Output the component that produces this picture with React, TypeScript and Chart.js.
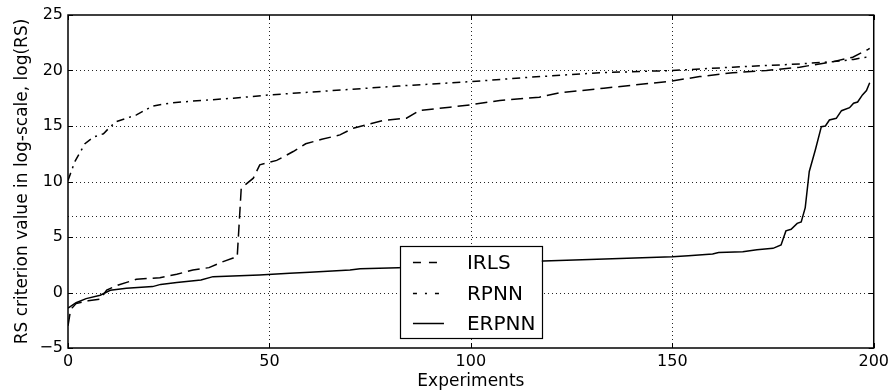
import React, { useEffect, useRef } from "react";
import { Chart, registerables } from "chart.js";

Chart.register(...registerables);

// ---------- data ----------
const seriesNames = ["IRLS", "RPNN", "ERPNN"];

const irlsX = [0, 0.5, 1, 2, 5, 8, 9.6, 12.5, 17, 22.8, 27, 31, 35, 38.5, 41, 42, 43, 46, 47.6, 51.8, 55.9, 59, 63, 67.5, 70.8, 78.3, 84, 87.3, 94.8, 99.8, 107.2, 117, 122, 133, 149.8, 156.8, 165, 173.4, 181.6, 190, 194.8, 198.6, 199];
const irlsY = [-3.0, -1.9, -1.4, -1.0, -0.75, -0.6, 0.22, 0.68, 1.19, 1.33, 1.64, 2.03, 2.24, 2.78, 3.1, 3.2, 9.4, 10.3, 11.5, 11.9, 12.7, 13.4, 13.8, 14.2, 14.8, 15.5, 15.7, 16.4, 16.7, 16.9, 17.3, 17.6, 18.0, 18.4, 19.05, 19.45, 19.8, 20.0, 20.3, 20.8, 21.2, 21.9, 22.0];

const rpnnX = [0, 1.7, 4.2, 6.3, 8.8, 10.4, 12, 17, 21, 26, 33, 41, 50, 58, 82, 100, 115, 132, 150, 165, 182, 190, 195, 198, 199];
const rpnnY = [10.1, 11.8, 13.4, 14.0, 14.3, 14.9, 15.4, 16.0, 16.8, 17.1, 17.3, 17.5, 17.8, 18.0, 18.6, 19.0, 19.4, 19.8, 20.0, 20.3, 20.6, 20.8, 21.0, 21.2, 21.3];

const erpnnX = [0, 2, 4.5, 8, 10.5, 14.5, 21, 23, 27, 33, 36, 47.5, 55, 60, 70, 72.5, 82, 100, 118, 129.5, 150, 154, 160, 161.5, 167.5, 171, 175, 177, 178.2, 179.5, 181, 182, 183, 184, 185.5, 187, 188, 189, 190.7, 192, 194, 195, 196, 197.2, 198.2, 199];
const erpnnY = [-1.4, -0.92, -0.55, -0.25, 0.2, 0.38, 0.53, 0.73, 0.9, 1.12, 1.43, 1.58, 1.73, 1.82, 2.03, 2.15, 2.24, 2.55, 2.84, 2.97, 3.23, 3.32, 3.47, 3.6, 3.68, 3.86, 3.98, 4.28, 5.55, 5.69, 6.23, 6.36, 7.65, 10.9, 12.84, 14.94, 15.0, 15.54, 15.69, 16.38, 16.65, 17.05, 17.16, 17.8, 18.2, 18.9];

const xTicks = [0, 50, 100, 150, 200];
const yTicks = [-5, 0, 5, 10, 15, 20, 25];
const thresholdValue = 6.908; // ln(1000)

const xTitle = "Experiments";
const yTitle = "RS criterion value in log-scale, log(RS)";

// ---------- styles ----------
const FONT = "'DejaVu Sans', 'Liberation Sans', sans-serif";
const dashIRLS = [12, 6];
const dashRPNN = [8, 5, 2, 5];
const dashes = [dashIRLS, dashRPNN, []];

const toPts = (xs: number[], ys: number[]) => xs.map((x, i) => ({ x, y: ys[i] }));

export default function App() {
  const ref = useRef<HTMLCanvasElement | null>(null);

  useEffect(() => {
    document.body.style.margin = "0";
    const canvas = ref.current;
    if (!canvas) return;

    const decor = {
      id: "decor",
      beforeDatasetsDraw(chart: any) {
        const { ctx, chartArea: a, scales } = chart;
        const xs = scales.x;
        const ys = scales.y;
        ctx.save();
        ctx.strokeStyle = "rgba(0,0,0,0.85)";
        ctx.lineWidth = 1;
        ctx.setLineDash([1, 3]);
        xTicks.forEach((v) => {
          if (v === xs.min || v === xs.max) return;
          const px = Math.round(xs.getPixelForValue(v)) + 0.5;
          ctx.beginPath();
          ctx.moveTo(px, a.top);
          ctx.lineTo(px, a.bottom);
          ctx.stroke();
        });
        [...yTicks, thresholdValue].forEach((v) => {
          if (v === ys.min || v === ys.max) return;
          const py = Math.round(ys.getPixelForValue(v)) + 0.5;
          ctx.beginPath();
          ctx.moveTo(a.left, py);
          ctx.lineTo(a.right, py);
          ctx.stroke();
        });
        ctx.restore();
      },
      afterDatasetsDraw(chart: any) {
        const { ctx, chartArea: a, scales } = chart;
        const xs = scales.x;
        const ys = scales.y;
        ctx.save();
        ctx.setLineDash([]);
        ctx.strokeStyle = "#000";
        // inward ticks
        ctx.lineWidth = 1;
        const tl = 5;
        xTicks.forEach((v) => {
          const px = Math.round(xs.getPixelForValue(v)) + 0.5;
          ctx.beginPath();
          ctx.moveTo(px, a.bottom);
          ctx.lineTo(px, a.bottom - tl);
          ctx.moveTo(px, a.top);
          ctx.lineTo(px, a.top + tl);
          ctx.stroke();
        });
        yTicks.forEach((v) => {
          const py = Math.round(ys.getPixelForValue(v)) + 0.5;
          ctx.beginPath();
          ctx.moveTo(a.left, py);
          ctx.lineTo(a.left + tl, py);
          ctx.moveTo(a.right, py);
          ctx.lineTo(a.right - tl, py);
          ctx.stroke();
        });
        // frame
        ctx.lineWidth = 1.5;
        ctx.strokeRect(a.left, a.top, a.right - a.left, a.bottom - a.top);

        // legend
        const w = a.right - a.left;
        const h = a.bottom - a.top;
        const lx = a.left + w * 0.412;
        const rx = a.left + w * 0.588;
        const ty = a.top + h * 0.694;
        const by = a.top + h * 0.97;
        ctx.fillStyle = "#fff";
        ctx.fillRect(lx, ty, rx - lx, by - ty);
        ctx.lineWidth = 1.2;
        ctx.strokeRect(Math.round(lx) + 0.5, Math.round(ty) + 0.5, Math.round(rx - lx), Math.round(by - ty));
        const rowH = (by - ty) / 3.1;
        ctx.font = `20px ${FONT}`;
        ctx.textBaseline = "middle";
        ctx.textAlign = "left";
        ctx.fillStyle = "#000";
        seriesNames.forEach((name, i) => {
          const cy = Math.round(ty + rowH * 0.55 + rowH * i + i * 0.5) + 0.5;
          ctx.lineWidth = 1.5;
          ctx.setLineDash(i === 0 ? [8, 8] : i === 1 ? [4, 8, 2, 8] : []);
          ctx.beginPath();
          ctx.moveTo(lx + 13, cy);
          ctx.lineTo(lx + 44, cy);
          ctx.stroke();
          ctx.setLineDash([]);
          ctx.fillText(name, lx + 67, cy + 1);
        });
        ctx.restore();
      },
    };

    const minus = (v: number) => (v < 0 ? "\u2212" + Math.abs(v) : String(v));

    const chart = new Chart(canvas, {
      type: "line",
      data: {
        datasets: [
          { label: seriesNames[0], data: toPts(irlsX, irlsY) },
          { label: seriesNames[1], data: toPts(rpnnX, rpnnY) },
          { label: seriesNames[2], data: toPts(erpnnX, erpnnY) },
        ].map((d, i) => ({
          ...d,
          borderColor: "#000",
          backgroundColor: "#000",
          borderWidth: 1.5,
          borderDash: dashes[i],
          pointRadius: 0,
          tension: 0,
          fill: false,
        })),
      },
      options: {
        responsive: false,
        animation: false,
        events: [],
        layout: { padding: { top: 15, right: 19, left: 0, bottom: 0 } },
        plugins: { legend: { display: false }, tooltip: { enabled: false } },
        scales: {
          x: {
            type: "linear",
            min: 0,
            max: 200,
            afterFit: (s: any) => {
              s.height = 44;
            },
            afterBuildTicks: (s: any) => {
              s.ticks = xTicks.map((v) => ({ value: v }));
            },
            grid: { display: false, drawTicks: false, tickLength: 0 },
            border: { display: false },
            ticks: {
              color: "#000",
              font: { family: FONT, size: 16 },
              padding: 4,
              maxRotation: 0,
              callback: (v: any) => minus(Number(v)),
            },
            title: {
              display: true,
              text: xTitle,
              color: "#000",
              font: { family: FONT, size: 17 },
              padding: { top: 0, bottom: 0 },
            },
          },
          y: {
            type: "linear",
            min: -5,
            max: 25,
            afterFit: (s: any) => {
              s.width = 68;
            },
            afterBuildTicks: (s: any) => {
              s.ticks = yTicks.map((v) => ({ value: v }));
            },
            grid: { display: false, drawTicks: false, tickLength: 0 },
            border: { display: false },
            ticks: {
              color: "#000",
              font: { family: FONT, size: 16 },
              padding: 5,
              callback: (v: any) => minus(Number(v)),
            },
            title: {
              display: true,
              text: yTitle,
              color: "#000",
              font: { family: FONT, size: 17 },
              padding: { top: 12, bottom: 0 },
            },
          },
        },
      } as any,
      plugins: [decor],
    });

    return () => chart.destroy();
  }, []);

  return <canvas ref={ref} width={893} height={392} style={{ display: "block" }} />;
}
